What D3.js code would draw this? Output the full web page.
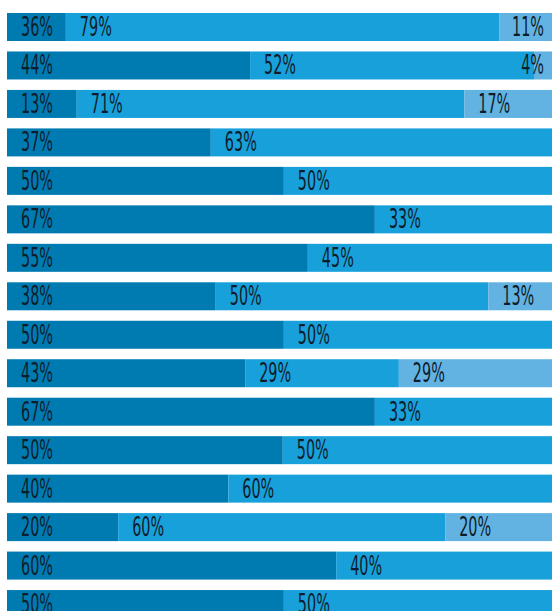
<!DOCTYPE html>
<html>
<head>
<meta charset="utf-8">
<script src="https://cdn.jsdelivr.net/npm/d3@7"></script>
<style>
  html, body { margin: 0; padding: 0; background: #fff; overflow: hidden; }
</style>
</head>
<body>
<div id="chart-container"></div>
<script>
// one entry per bar, top to bottom
const rows = ['r1', 'r2', 'r3', 'r4', 'r5', 'r6', 'r7', 'r8',
  'r9', 'r10', 'r11', 'r12', 'r13', 'r14', 'r15', 'r16'];

// segment shares (percent of bar length)
const firstShare = [10.8, 44.6, 12.8, 37.4, 50.8, 67.5, 55.2, 38.3,
  50.8, 43.7, 67.5, 50.6, 40.6, 20.4, 60.4, 50.8];
const secondShare = [79.5, 52.1, 71.1, 62.6, 49.2, 32.5, 44.8, 50.0,
  49.2, 28.2, 32.5, 49.4, 59.4, 60.0, 39.6, 49.2];
const thirdShare = [9.7, 3.3, 16.1, 0, 0, 0, 0, 11.7,
  0, 28.1, 0, 0, 0, 19.6, 0, 0];

// printed labels
const firstLabel = ['36%', '44%', '13%', '37%', '50%', '67%', '55%', '38%',
  '50%', '43%', '67%', '50%', '40%', '20%', '60%', '50%'];
const secondLabel = ['79%', '52%', '71%', '63%', '50%', '33%', '45%', '50%',
  '50%', '29%', '33%', '50%', '60%', '60%', '40%', '50%'];
const thirdLabel = ['11%', '4%', '17%', '', '', '', '', '13%',
  '', '29%', '', '', '', '20%', '', ''];

const segmentKeys = ['first', 'second', 'third'];
const segmentColours = ['#007bb2', '#18a0db', '#63b3e2'];

const svgWidth = 552;
const svgHeight = 611;
const barLeft = 7;
const barRight = 552;
const rowStep = 38.47;
const barHeight = 28;
const firstTop = 13;
const labelOffset = 14;
const labelTargetWidth = 32; // width of "50%" in the reference

const table = rows.map((r, i) => ({
  row: r,
  first: firstShare[i],
  second: secondShare[i],
  third: thirdShare[i],
  labels: [firstLabel[i], secondLabel[i], thirdLabel[i]],
}));

const stacked = d3.stack().keys(segmentKeys)(table);

const gap = rowStep - barHeight;
const yScale = d3
  .scaleBand()
  .domain(rows)
  .range([firstTop - gap / 2, firstTop - gap / 2 + rows.length * rowStep])
  .paddingInner(gap / rowStep)
  .paddingOuter(gap / rowStep / 2);

const xScale = d3.scaleLinear().domain([0, 100]).range([barLeft, barRight]);

const colourScale = d3.scaleOrdinal().domain(segmentKeys).range(segmentColours);

const svg = d3
  .create('svg')
  .attr('width', svgWidth)
  .attr('height', svgHeight)
  .attr('viewBox', [0, 0, svgWidth, svgHeight]);

// bars
svg
  .append('g')
  .selectAll('g')
  .data(stacked)
  .join('g')
  .attr('fill', (s) => colourScale(s.key))
  .selectAll('rect')
  .data((s) => s.filter((d) => d[1] - d[0] > 0))
  .join('rect')
  .attr('x', (d) => xScale(d[0]))
  .attr('y', (d) => yScale(d.data.row))
  .attr('width', (d) => xScale(d[1]) - xScale(d[0]))
  .attr('height', yScale.bandwidth());

document.getElementById('chart-container').append(svg.node());

// work out a horizontal squeeze so the font looks as condensed as the original
const fontFamily = "'Liberation Sans Narrow', 'DejaVu Sans Condensed', 'Roboto', sans-serif";
const fontSize = 26;
const probe = svg
  .append('text')
  .attr('font-family', fontFamily)
  .attr('font-size', fontSize)
  .text('50%');
const probeWidth = probe.node().getComputedTextLength();
probe.remove();
const squeeze = labelTargetWidth / probeWidth;

// labels
const labelData = [];
stacked.forEach((s, k) => {
  s.forEach((d) => {
    const text = d.data.labels[k];
    if (text) {
      labelData.push({ x: xScale(d[0]), row: d.data.row, text: text });
    }
  });
});

svg
  .append('g')
  .attr('font-family', fontFamily)
  .attr('font-size', fontSize)
  .attr('fill', '#0f1d2b')
  .selectAll('text')
  .data(labelData)
  .join('text')
  .text((d) => d.text)
  .each(function (d) {
    const w = this.getComputedTextLength() * squeeze;
    let x = d.x + labelOffset;
    if (x + w > barRight - 8) {
      x = barRight - 8 - w;
    }
    const y = yScale(d.row) + 23;
    d3.select(this).attr('transform', `translate(${x},${y}) scale(${squeeze},1)`);
  });
</script>
</body>
</html>
